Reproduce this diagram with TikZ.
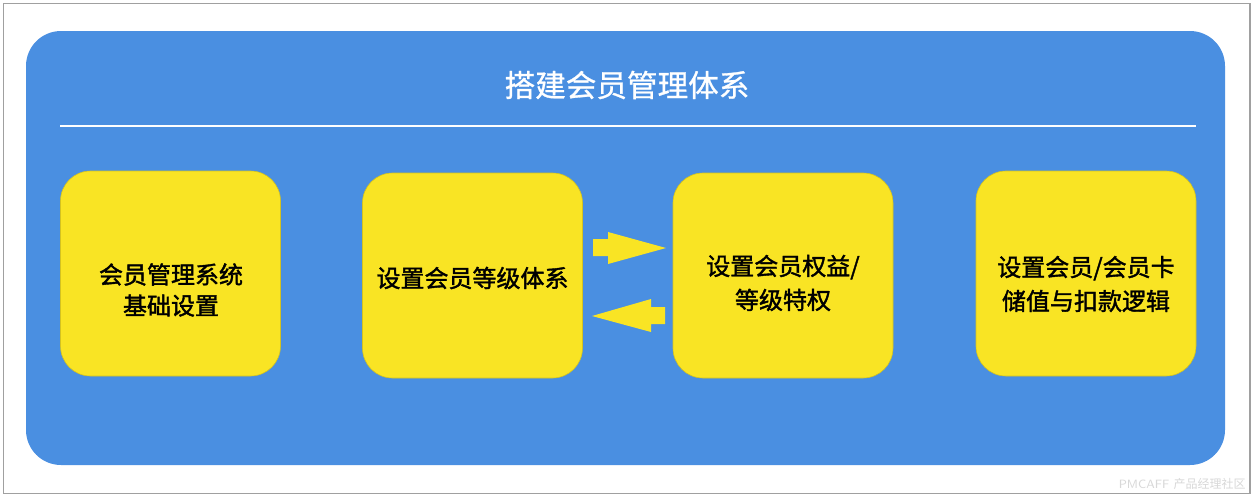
\documentclass[tikz,border=0pt]{standalone}
\usepackage{fontspec}
\newfontfamily\cjk{Noto Sans CJK SC}
\newfontfamily\cjkm{Noto Sans CJK SC}[FakeBold=1.6]
\newfontfamily\cjkt{Noto Sans CJK SC}[FakeBold=0.9]
\definecolor{bgblue}{HTML}{4A8FE1}
\definecolor{boxyellow}{HTML}{F9E424}
\definecolor{framegray}{HTML}{A0A0A0}
\definecolor{wmgray}{HTML}{D8D8D8}
\tikzset{
  stagebox/.style={fill=boxyellow, draw=boxyellow!85!black, line width=0.3pt, rounded corners=15pt,
    minimum width=110pt, minimum height=102.5pt, inner sep=0pt},
  boxtext/.style={inner sep=0pt, align=center, text=black},
  blockarrow/.style={fill=boxyellow, draw=none}
}
\begin{document}
\begin{tikzpicture}[x=0.5pt, y=-0.5pt]
\useasboundingbox (0,0) rectangle (1255,500);
\fill[white] (0,0) rectangle (1255,500);
\draw[framegray, line width=0.6pt] (3.5,3.5) rectangle (1250,493.5);
\fill[bgblue, rounded corners=17.5pt] (26,31) rectangle (1225,465);
\node[text=white, font=\cjkt\fontsize{15.3pt}{18pt}\selectfont, inner sep=0pt] (title) at (627,85) {搭建会员管理体系};
\coordinate (ruleL) at (60,126);
\coordinate (ruleR) at (1196,126);
\draw[white, line width=0.8pt] (ruleL) -- (ruleR);
\node[stagebox] (b1) at (170.5,273.5) {};
\node[stagebox] (b2) at (472.5,275.5) {};
\node[stagebox] (b3) at (783,275.5) {};
\node[stagebox] (b4) at (1086,273.5) {};
\node[boxtext, font=\cjkm\fontsize{12pt}{15.5pt}\selectfont] (t1) at (171,290) {会员管理系统\\基础设置};
\node[boxtext, font=\cjkm\fontsize{12pt}{16pt}\selectfont] (t2) at (472.5,278) {设置会员等级体系};
\node[boxtext, font=\cjkm\fontsize{12pt}{17pt}\selectfont] (t3) at (783,283) {设置会员权益/\\等级特权};
\node[boxtext, font=\cjkm\fontsize{12pt}{17pt}\selectfont] (t4) at (1086,284) {设置会员/会员卡\\储值与扣款逻辑};
\fill[blockarrow] (593,239) -- (608,239) -- (608,232) -- (666,248) -- (608,264) -- (608,256) -- (593,256) -- cycle;
\fill[blockarrow] (592,316) -- (651,299) -- (651,307) -- (665,307) -- (665,324) -- (651,324) -- (651,332) -- cycle;
\node[text=wmgray, font=\sffamily\fontsize{6pt}{7pt}\selectfont, inner sep=0pt, anchor=east] (wm) at (1246,484) {PMCAFF {\cjk 产品经理社区}};
\end{tikzpicture}
\end{document}
